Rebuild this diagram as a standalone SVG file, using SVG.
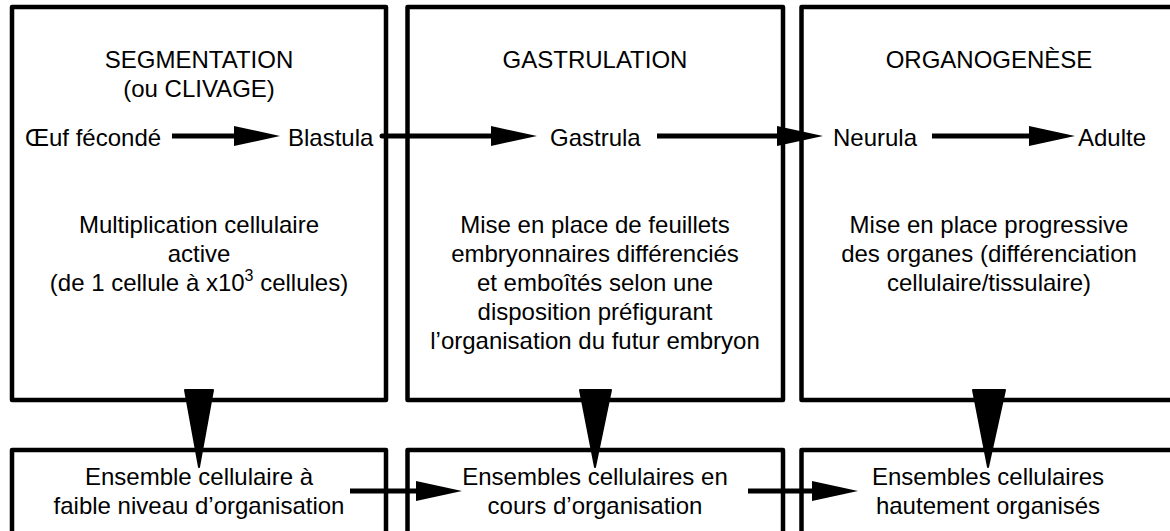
<svg xmlns="http://www.w3.org/2000/svg" width="1170" height="531" viewBox="0 0 1170 531">
<style>
.box{fill:none;stroke:#000;stroke-width:4.5;stroke-linejoin:round}
text{font-family:"Liberation Sans",Arial,Helvetica,sans-serif;font-size:24px;fill:#000}
.c{text-anchor:middle}
.ln{stroke:#000;stroke-width:5;fill:none}
.vh{fill:#000;stroke:#000;stroke-width:2;stroke-linejoin:round}
</style>
<defs>
<marker id="ah" markerUnits="userSpaceOnUse" markerWidth="48" markerHeight="22" refX="26" refY="10" orient="auto" overflow="visible">
<path d="M0,0 L46,10 L0,20 Z" fill="#000"/>
</marker>
</defs>
<rect width="1170" height="531" fill="#fff"/>

<g id="segmentation">
<rect class="box" x="12" y="7" width="374" height="393"/>
<text class="c" x="199" y="68">SEGMENTATION</text>
<text class="c" x="199" y="97">(ou CLIVAGE)</text>
<text x="25" y="146">Œuf fécondé</text>
<text x="288" y="146">Blastula</text>
<text class="c" x="199" y="233">Multiplication cellulaire</text>
<text class="c" x="199" y="262">active</text>
<text class="c" x="199" y="291">(de 1 cellule à x10<tspan dy="-10" font-size="16">3</tspan><tspan dy="10"> cellules)</tspan></text>
</g>

<g id="gastrulation">
<rect class="box" x="407.5" y="7" width="375.5" height="393"/>
<text class="c" x="595" y="68">GASTRULATION</text>
<text x="550" y="146">Gastrula</text>
<text class="c" x="595" y="233">Mise en place de feuillets</text>
<text class="c" x="595" y="262">embryonnaires différenciés</text>
<text class="c" x="595" y="291">et emboîtés selon une</text>
<text class="c" x="595" y="320">disposition préfigurant</text>
<text class="c" x="595" y="349">l’organisation du futur embryon</text>
</g>

<g id="organogenese">
<rect class="box" x="801.5" y="7" width="400" height="393"/>
<text class="c" x="989" y="68">ORGANOGENÈSE</text>
<text x="833" y="146">Neurula</text>
<text x="1078" y="146">Adulte</text>
<text class="c" x="989" y="233">Mise en place progressive</text>
<text class="c" x="989" y="262">des organes (différenciation</text>
<text class="c" x="989" y="291">cellulaire/tissulaire)</text>
</g>

<g id="ensemble1">
<rect class="box" x="12" y="450" width="374" height="90"/>
<text class="c" x="199" y="485">Ensemble cellulaire à</text>
<text class="c" x="199" y="514">faible niveau d’organisation</text>
</g>

<g id="ensemble2">
<rect class="box" x="407.5" y="450" width="375.5" height="90"/>
<text class="c" x="595" y="485">Ensembles cellulaires en</text>
<text class="c" x="595" y="514">cours d’organisation</text>
</g>

<g id="ensemble3">
<rect class="box" x="801.5" y="450" width="400" height="90"/>
<text class="c" x="988" y="485">Ensembles cellulaires</text>
<text class="c" x="988" y="514">hautement organisés</text>
</g>

<g id="connectors">
<line class="ln" x1="172" y1="136" x2="260" y2="136" marker-end="url(#ah)"/>
<line class="ln" x1="382" y1="136" x2="517" y2="136" marker-end="url(#ah)" stroke-linecap="round"/>
<line class="ln" x1="657" y1="136" x2="803" y2="136" marker-end="url(#ah)"/>
<line class="ln" x1="932" y1="136" x2="1055" y2="136" marker-end="url(#ah)"/>
<line class="ln" x1="350" y1="491" x2="442" y2="491" marker-end="url(#ah)"/>
<line class="ln" x1="748" y1="491" x2="838" y2="491" marker-end="url(#ah)"/>
<path class="vh" d="M185,390 L213,390 L199,467 Z"/>
<path class="vh" d="M580,390 L611,390 L595,467 Z"/>
<path class="vh" d="M973,390 L1005,390 L988,467 Z"/>
</g>
</svg>
